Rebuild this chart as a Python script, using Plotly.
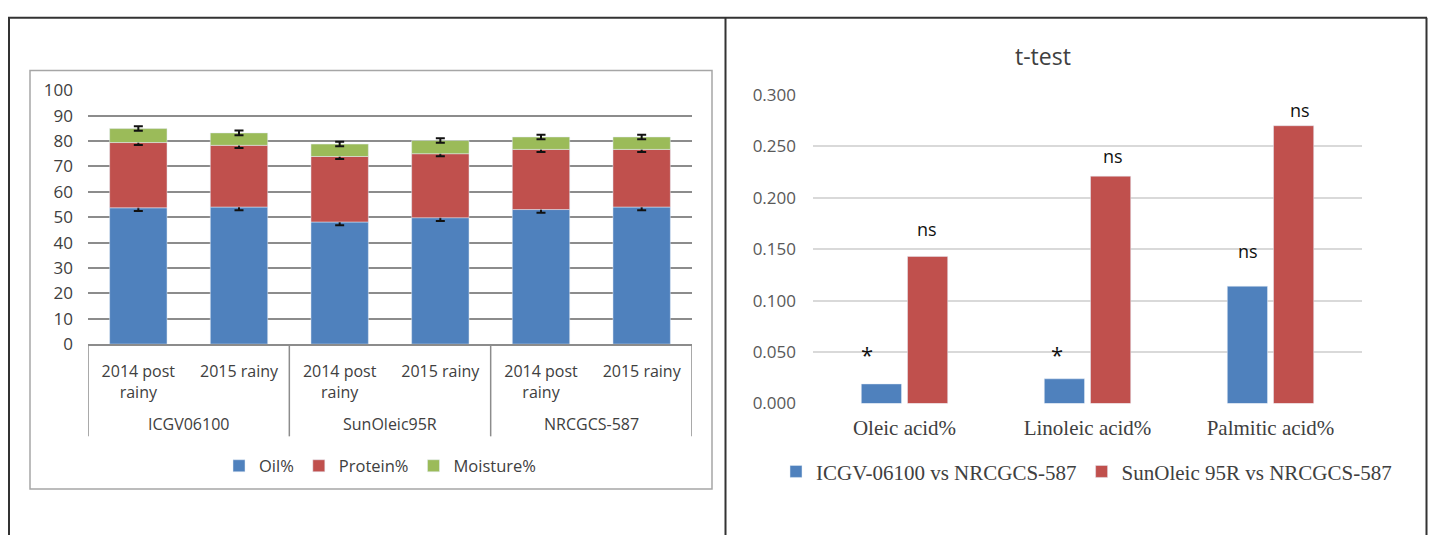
import plotly.graph_objects as go

# ---- Left panel: seed composition by variety and season ----
varieties = ["ICGV06100", "ICGV06100", "SunOleic95R", "SunOleic95R", "NRCGCS-587", "NRCGCS-587"]
seasons = ["2014 post<br>rainy", "2015 rainy", "2014 post<br>rainy", "2015 rainy", "2014 post<br>rainy", "2015 rainy"]
oil = [53.7, 54.0, 48.1, 49.8, 53.0, 54.0]
protein = [25.7, 24.3, 25.8, 25.2, 23.7, 22.7]
moisture = [5.5, 4.9, 4.9, 5.2, 4.9, 4.9]
oil_err = [1.3, 1.3, 1.3, 1.3, 1.3, 1.3]
protein_err = [1.0, 1.0, 1.0, 1.0, 1.0, 1.0]
moisture_err = [0.9, 0.9, 0.9, 0.9, 0.9, 0.9]

# ---- Right panel: t-test p-values ----
acids = ["Oleic acid%", "Linoleic acid%", "Palmitic acid%"]
icgv_vs_nrcgcs = [0.019, 0.024, 0.114]
sunoleic_vs_nrcgcs = [0.143, 0.221, 0.270]
icgv_sig = ["*", "*", "ns"]
sunoleic_sig = ["ns", "ns", "ns"]
icgv_sig_y = [0.048, 0.048, 0.148]
sunoleic_sig_y = [0.170, 0.241, 0.285]

BLUE, RED, GREEN = "#4F81BD", "#C0504D", "#9BBB59"
AXIS_GRAY = "#8c8c8c"
W, H = 1430, 546
SANS = "Open Sans"
SERIF = "Liberation Serif"

# one slot per (variety, season) bar; varieties span consecutive slots
slots = list(range(len(seasons)))
groups = []
for i, v in enumerate(varieties):
    if not groups or groups[-1][0] != v:
        groups.append([v, i, i])
    else:
        groups[-1][2] = i

protein_base = oil
moisture_base = [o + p for o, p in zip(oil, protein)]

fig = go.Figure()

def err(vals):
    return dict(type="data", array=vals, visible=True, color="#111111", thickness=2, width=4.5)

fig.add_trace(go.Bar(x=slots, y=oil, name="Oil%", marker_color=BLUE, offsetgroup="s", width=0.57,
                     error_y=err(oil_err), xaxis="x", yaxis="y", legend="legend"))
fig.add_trace(go.Bar(x=slots, y=protein, base=protein_base, name="Protein%", marker_color=RED, offsetgroup="s",
                     width=0.57, error_y=err(protein_err), xaxis="x", yaxis="y", legend="legend"))
fig.add_trace(go.Bar(x=slots, y=moisture, base=moisture_base, name="Moisture%", marker_color=GREEN, offsetgroup="s",
                     width=0.57, error_y=err(moisture_err), xaxis="x", yaxis="y", legend="legend"))

fig.add_trace(go.Bar(x=acids, y=icgv_vs_nrcgcs, name="ICGV-06100 vs NRCGCS-587", marker_color=BLUE,
                     offsetgroup="a", xaxis="x2", yaxis="y2", legend="legend2"))
fig.add_trace(go.Bar(x=acids, y=sunoleic_vs_nrcgcs, name="SunOleic 95R vs NRCGCS-587", marker_color=RED,
                     offsetgroup="b", xaxis="x2", yaxis="y2", legend="legend2"))

annotations = []
shapes = []

# variety labels and group dividers under the left category axis
AXIS_Y = 1 - 346.7 / H
for name, first, last in groups:
    annotations.append(dict(x=(first + last) / 2, y=1 - 430 / H, xref="x", yref="paper", text=name,
                            showarrow=False, xanchor="center", yanchor="middle",
                            font=dict(family=SANS, size=16, color="#404040")))
edges = [groups[0][1] - 0.5] + [last + 0.5 for _, _, last in groups]
for e in edges:
    shapes.append(dict(type="line", xref="x", yref="paper", x0=e, x1=e, y0=1 - 443 / H, y1=AXIS_Y,
                       line=dict(color=AXIS_GRAY, width=1.5)))

# significance marks above the right-panel bars
icgv_shift = [-38, -31, -23]
sun_shift = [22, 25, 29]
for cat, s, yv, dx in zip(acids, icgv_sig, icgv_sig_y, icgv_shift):
    annotations.append(dict(x=cat, y=yv, xref="x2", yref="y2", text=s, showarrow=False, xshift=dx,
                            yanchor="middle",
                            font=dict(family=SANS, size=18 if s == "ns" else 22, color="#111111")))
for cat, s, yv, dx in zip(acids, sunoleic_sig, sunoleic_sig_y, sun_shift):
    annotations.append(dict(x=cat, y=yv, xref="x2", yref="y2", text=s, showarrow=False, xshift=dx,
                            yanchor="middle", font=dict(family=SANS, size=18, color="#111111")))
annotations.append(dict(x=1043 / W, y=1 - 46 / H, xref="paper", yref="paper", text="t-test", showarrow=False,
                        xanchor="center", yanchor="middle",
                        font=dict(family=SANS, size=23, color="#404040")))

# panel frames
def px_line(x0, y0, x1, y1, color="#333333", width=2):
    return dict(type="line", xref="paper", yref="paper", x0=x0 / W, x1=x1 / W, y0=1 - y0 / H, y1=1 - y1 / H,
                line=dict(color=color, width=width))

shapes += [
    px_line(8, 6, 1427, 6),
    px_line(9, 6, 9, 546),
    px_line(725.5, 6, 725.5, 546),
    px_line(1426.5, 6, 1426.5, 546),
    dict(type="rect", xref="paper", yref="paper", x0=30 / W, x1=712 / W, y0=1 - 498 / H, y1=1 - 61 / H,
         line=dict(color="#a6a6a6", width=1.5)),
]

fig.update_layout(
    width=W, height=H, margin=dict(l=0, r=0, t=0, b=0),
    paper_bgcolor="white", plot_bgcolor="white",
    barmode="group", bargap=0.495, bargroupgap=0.13,
    font=dict(family=SANS, color="#404040"),
    xaxis=dict(domain=[88 / W, 692 / W], anchor="y", range=[-0.5, len(slots) - 0.5],
               tickmode="array", tickvals=slots, ticktext=seasons,
               showline=True, linecolor=AXIS_GRAY, linewidth=1.5, zeroline=False,
               showgrid=False, ticks="", ticklabelstandoff=12,
               tickfont=dict(family=SANS, size=16, color="#404040")),
    yaxis=dict(domain=[AXIS_Y, 1 - 81.7 / H], range=[0, 100], dtick=10, anchor="x",
               showgrid=True, gridcolor=AXIS_GRAY, gridwidth=1.5, zeroline=False,
               ticks="", ticklabelstandoff=14, tickfont=dict(family=SANS, size=17, color="#404040")),
    xaxis2=dict(domain=[813 / W, 1362 / W], anchor="y2", showgrid=False, showline=False, ticks="",
                ticklabelstandoff=10, tickfont=dict(family=SERIF, size=21, color="#404040")),
    yaxis2=dict(domain=[1 - 408.7 / H, 1 - 86.5 / H], range=[0, 0.3], dtick=0.05, tickformat=".3f", anchor="x2",
                showgrid=True, gridcolor="#d9d9d9", gridwidth=1.5, zeroline=False,
                ticks="", ticklabelstandoff=16, tickfont=dict(family=SANS, size=17, color="#595959")),
    legend=dict(orientation="h", x=380 / W, xanchor="center", y=1 - 474 / H, yanchor="middle", itemwidth=30,
                font=dict(family=SANS, size=16.5, color="#404040"), bgcolor="rgba(0,0,0,0)"),
    legend2=dict(orientation="h", x=776 / W, xanchor="left", y=1 - 480 / H, yanchor="middle", itemwidth=30,
                 font=dict(family=SERIF, size=21, color="#404040"), bgcolor="rgba(0,0,0,0)"),
    annotations=annotations,
    shapes=shapes,
)

fig.write_html("out.html")
